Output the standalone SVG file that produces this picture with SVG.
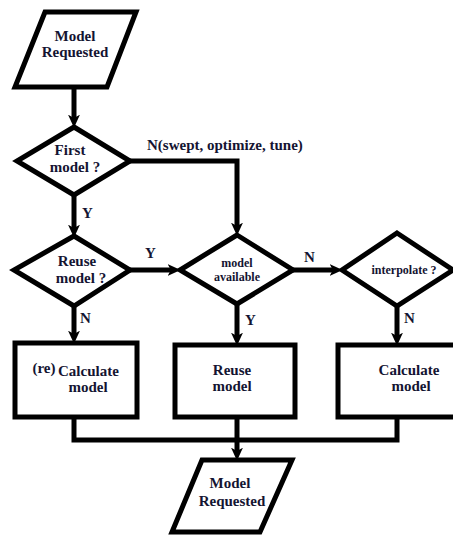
<svg xmlns="http://www.w3.org/2000/svg" width="453" height="535" viewBox="0 0 453 535">
<style>
.s{fill:#fff;stroke:#000;stroke-width:5;stroke-linejoin:miter}
.c{fill:none;stroke:#000;stroke-width:5}
.t{font-family:"Liberation Serif","Times New Roman",serif;font-weight:bold;font-size:15px;fill:#141432;text-anchor:middle}
.sm{font-size:12px}
.l{text-anchor:start}
</style>
<defs>
<marker id="ah" viewBox="0 0 12 12" refX="4" refY="6" markerWidth="13" markerHeight="13" markerUnits="userSpaceOnUse" orient="auto">
<path d="M0,0.5 L12,6 L0,11.5 L3,6 z" fill="#000"/>
</marker>
</defs>
<rect width="453" height="535" fill="#fff"/>
<g id="connectors">
<line class="c" x1="74" y1="87" x2="74" y2="119" marker-end="url(#ah)"/>
<line class="c" x1="74" y1="195" x2="74" y2="229" marker-end="url(#ah)"/>
<line class="c" x1="130" y1="270" x2="172" y2="270" marker-end="url(#ah)"/>
<polyline class="c" points="130,161 237,161 237,227" marker-end="url(#ah)"/>
<line class="c" x1="293" y1="270" x2="334" y2="270" marker-end="url(#ah)"/>
<line class="c" x1="74" y1="307" x2="74" y2="335" marker-end="url(#ah)"/>
<line class="c" x1="237" y1="304" x2="237" y2="337" marker-end="url(#ah)"/>
<line class="c" x1="397" y1="306" x2="397" y2="337" marker-end="url(#ah)"/>
<polyline class="c" points="74,417 74,440 397,440 397,417"/>
<line class="c" x1="237" y1="417" x2="237" y2="440"/>
<line class="c" x1="237" y1="438" x2="237" y2="452" marker-end="url(#ah)"/>
<text class="t l" x="82" y="218">Y</text>
<text class="t l" x="145" y="258">Y</text>
<text class="t l" x="80" y="323">N</text>
<text class="t l" x="245" y="325">Y</text>
<text class="t l" x="404" y="323">N</text>
<text class="t l" x="304" y="262">N</text>
<text class="t l" x="147" y="150">N(swept, optimize, tune)</text>
</g>
<g id="start">
<polygon class="s" points="45,12 136,12 107,87 15,87"/>
<text class="t" x="75" y="41">Model</text>
<text class="t" x="75" y="57">Requested</text>
</g>
<g id="first-model">
<polygon class="s" points="74,127 130,161 74,195 17,161"/>
<text class="t" x="70" y="155">First</text>
<text class="t" x="75" y="172">model ?</text>
</g>
<g id="reuse-model">
<polygon class="s" points="74,236 130,270 74,306 14,270"/>
<text class="t" x="77" y="266">Reuse</text>
<text class="t" x="81" y="283">model ?</text>
</g>
<g id="model-available">
<polygon class="s" points="237,235 293,270 237,304 180,270"/>
<text class="t sm" x="237" y="267">model</text>
<text class="t sm" x="237" y="281">available</text>
</g>
<g id="interpolate">
<polygon class="s" points="397,233 453,270 397,306 342,270"/>
<text class="t sm" x="404" y="274">interpolate ?</text>
</g>
<g id="recalculate">
<rect class="s" x="15" y="343" width="122" height="74"/>
<text class="t" x="44" y="373">(re)</text>
<text class="t l" x="58" y="376">Calculate</text>
<text class="t" x="88" y="392">model</text>
</g>
<g id="reuse">
<rect class="s" x="175" y="345" width="120" height="72"/>
<text class="t" x="232" y="375">Reuse</text>
<text class="t" x="232" y="391">model</text>
</g>
<g id="calculate">
<rect class="s" x="338" y="345" width="125" height="72"/>
<text class="t" x="409" y="375">Calculate</text>
<text class="t" x="411" y="391">model</text>
</g>
<g id="end">
<polygon class="s" points="202,460 292,460 260,532 172,532"/>
<text class="t" x="230" y="488">Model</text>
<text class="t" x="232" y="506">Requested</text>
</g>
</svg>
